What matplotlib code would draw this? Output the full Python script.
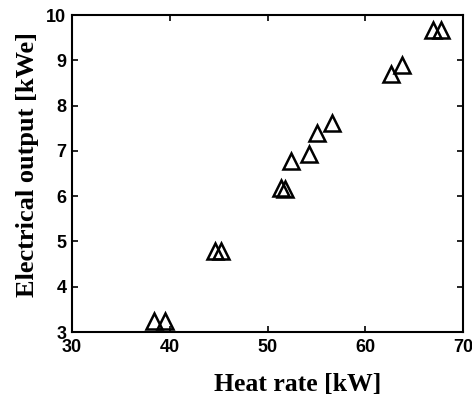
import matplotlib.pyplot as plt

# values
heat_rate = [38.4, 39.5, 44.6, 45.2, 51.4, 51.8, 52.4, 54.2, 55.1, 56.6, 62.6, 63.8, 66.9, 67.7]
elec_output = [3.25, 3.25, 4.8, 4.8, 6.18, 6.15, 6.77, 6.93, 7.4, 7.62, 8.7, 8.9, 9.67, 9.67]

fig = plt.figure(figsize=(4.72, 3.96), dpi=100)
ax = fig.add_axes([0.1525, 0.1616, 0.8285, 0.8004])

ax.plot(heat_rate, elec_output, linestyle="none", marker="^", markersize=11,
        markerfacecolor="none", markeredgecolor="black", markeredgewidth=1.8)

ax.set_xlim(30, 70)
ax.set_ylim(3, 10)
ax.set_xticks([30, 40, 50, 60, 70])
ax.set_yticks([3, 4, 5, 6, 7, 8, 9, 10])
ax.tick_params(direction="in", top=True, right=True, length=4, width=1.2)
ax.tick_params(axis="x", pad=5)
ax.tick_params(axis="y", pad=4)
for lbl in ax.get_xticklabels() + ax.get_yticklabels():
    lbl.set_fontfamily("Liberation Sans")
    lbl.set_fontweight("bold")
    lbl.set_fontsize(13)
for s in ax.spines.values():
    s.set_linewidth(1.5)

ax.set_xlabel("Heat rate [kW]", fontfamily="Liberation Serif", fontweight="bold", fontsize=18.5, va="center")
ax.set_ylabel("Electrical output [kWe]", fontfamily="Liberation Serif", fontweight="bold", fontsize=19, va="center")
# labels sit off-centre in the original
ax.xaxis.set_label_coords(0.578, -0.167)
ax.yaxis.set_label_coords(-0.115, 0.527)

plt.savefig("out.png", dpi=100)
